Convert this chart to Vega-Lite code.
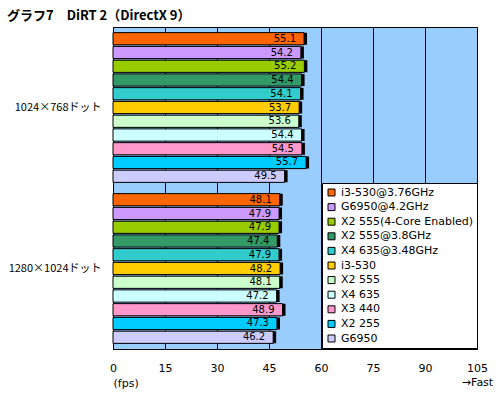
{
  "$schema": "https://vega.github.io/schema/vega-lite/v6.json",
  "width": 364,
  "height": 322,
  "autosize": "none",
  "padding": {"left": 113, "top": 27, "right": 23, "bottom": 48},
  "background": "white",
  "title": {"text": "グラフ7　DiRT 2（DirectX 9）", "anchor": "start", "frame": "group", "dx": -106, "offset": 4, "font": "Noto Sans CJK JP", "fontSize": 13, "fontWeight": "bold", "color": "black"},
  "config": {"view": {"fill": "#99ccff", "stroke": "black", "strokeWidth": 1}, "font": "DejaVu Sans"},
  "data": {"values": [
    {"res": "1024×768ドット", "cpu": "i3-530@3.76GHz", "fps": 55.1},
    {"res": "1024×768ドット", "cpu": "G6950@4.2GHz", "fps": 54.2},
    {"res": "1024×768ドット", "cpu": "X2 555(4-Core Enabled)", "fps": 55.2},
    {"res": "1024×768ドット", "cpu": "X2 555@3.8GHz", "fps": 54.4},
    {"res": "1024×768ドット", "cpu": "X4 635@3.48GHz", "fps": 54.1},
    {"res": "1024×768ドット", "cpu": "i3-530", "fps": 53.7},
    {"res": "1024×768ドット", "cpu": "X2 555", "fps": 53.6},
    {"res": "1024×768ドット", "cpu": "X4 635", "fps": 54.4},
    {"res": "1024×768ドット", "cpu": "X3 440", "fps": 54.5},
    {"res": "1024×768ドット", "cpu": "X2 255", "fps": 55.7},
    {"res": "1024×768ドット", "cpu": "G6950", "fps": 49.5},
    {"res": "1280×1024ドット", "cpu": "i3-530@3.76GHz", "fps": 48.1},
    {"res": "1280×1024ドット", "cpu": "G6950@4.2GHz", "fps": 47.9},
    {"res": "1280×1024ドット", "cpu": "X2 555(4-Core Enabled)", "fps": 47.9},
    {"res": "1280×1024ドット", "cpu": "X2 555@3.8GHz", "fps": 47.4},
    {"res": "1280×1024ドット", "cpu": "X4 635@3.48GHz", "fps": 47.9},
    {"res": "1280×1024ドット", "cpu": "i3-530", "fps": 48.2},
    {"res": "1280×1024ドット", "cpu": "X2 555", "fps": 48.1},
    {"res": "1280×1024ドット", "cpu": "X4 635", "fps": 47.2},
    {"res": "1280×1024ドット", "cpu": "X3 440", "fps": 48.9},
    {"res": "1280×1024ドット", "cpu": "X2 255", "fps": 47.3},
    {"res": "1280×1024ドット", "cpu": "G6950", "fps": 46.2}
  ]},
  "encoding": {
    "y": {"field": "res", "type": "nominal", "sort": ["1024×768ドット", "1280×1024ドット"], "scale": {"paddingInner": 0, "paddingOuter": 0},
      "axis": {"title": null, "ticks": false, "domain": false, "labelPadding": 12, "labelFont": "Noto Sans CJK JP", "labelFontSize": 11, "labelColor": "black", "labelFontWeight": "normal"}},
    "yOffset": {"field": "cpu", "type": "nominal",
      "sort": ["i3-530@3.76GHz", "G6950@4.2GHz", "X2 555(4-Core Enabled)", "X2 555@3.8GHz", "X4 635@3.48GHz", "i3-530", "X2 555", "X4 635", "X3 440", "X2 255", "G6950"],
      "scale": {"paddingInner": 0.11, "paddingOuter": 0.41}},
    "x": {"field": "fps", "type": "quantitative", "scale": {"domain": [0, 105], "nice": false},
      "axis": {"values": [0, 15, 30, 45, 60, 75, 90, 105], "grid": true, "gridColor": "black", "gridOpacity": 1, "gridWidth": 1,
        "domain": false, "ticks": false, "labelPadding": 13, "labelFontSize": 11, "labelColor": "black", "labelFlush": false, "labelOverlap": false,
        "labelExpr": "datum.value == 105 ? ['105', '→Fast'] : datum.label", "labelLineHeight": 14,
        "title": "(fps)", "titleAnchor": "start", "titleAlign": "left", "titleBaseline": "top", "titleX": 0, "titleY": 28,
        "titleFontSize": 11, "titleFontWeight": "normal", "titleColor": "black"}}
  },
  "layer": [
    {"mark": {"type": "bar", "color": "black", "xOffset": 3, "yOffset": 3, "y2Offset": 3}},
    {"mark": {"type": "bar", "stroke": "black", "strokeWidth": 1},
      "encoding": {"color": {"field": "cpu", "type": "nominal",
        "sort": ["i3-530@3.76GHz", "G6950@4.2GHz", "X2 555(4-Core Enabled)", "X2 555@3.8GHz", "X4 635@3.48GHz", "i3-530", "X2 555", "X4 635", "X3 440", "X2 255", "G6950"],
        "scale": {"domain": ["i3-530@3.76GHz", "G6950@4.2GHz", "X2 555(4-Core Enabled)", "X2 555@3.8GHz", "X4 635@3.48GHz", "i3-530", "X2 555", "X4 635", "X3 440", "X2 255", "G6950"],
          "range": ["#ff6600", "#cc99ff", "#99cc00", "#339966", "#33cccc", "#ffcc00", "#ccffcc", "#ccffff", "#ff99cc", "#00ccff", "#ccccff"]},
        "legend": {"orient": "none", "legendX": 209, "legendY": 156, "title": null, "fillColor": "white", "strokeColor": "black", "padding": 4,
          "symbolType": "square", "symbolSize": 49, "symbolStrokeColor": "black", "symbolStrokeWidth": 1, "symbolOpacity": 1,
          "labelFont": "DejaVu Sans", "labelFontSize": 11, "labelColor": "black", "rowPadding": 2.6, "labelOffset": 4, "labelLimit": 220}}}},
    {"mark": {"type": "text", "align": "right", "baseline": "middle", "dx": -8, "font": "DejaVu Sans", "fontSize": 10, "color": "black"},
      "encoding": {"text": {"field": "fps", "type": "quantitative", "format": ".1f"}}}
  ]
}
